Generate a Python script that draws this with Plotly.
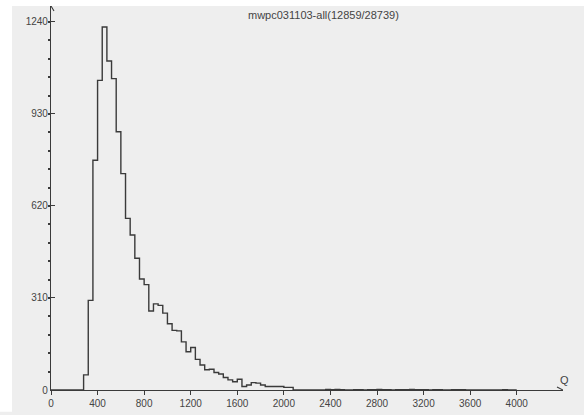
import plotly.graph_objects as go

# Histogram of Q, 40-wide bins starting at 0
bin_width = 40
counts = [
    0, 0, 0, 0, 0, 0, 0,                       # 0 - 280
    51, 302, 774, 1043, 1223, 1108, 1049, 870,  # 280 - 600
    729, 578, 522, 444, 374, 355, 266, 290,     # 600 - 920
    285, 259, 223, 201, 199, 162, 129, 143,     # 920 - 1240
    103, 84, 68, 70, 59, 54, 42, 34,            # 1240 - 1560
    28, 36, 12, 17, 25, 23, 17, 12,             # 1560 - 1880
    12, 12, 12, 9, 9, 0, 0, 0,                  # 1880 - 2200
    0, 0, 0, 0, 2, 1, 2, 1,                     # 2200 - 2520
    0, 0, 1, 1, 0, 1, 1, 2,                     # 2520 - 2840
    1, 1, 0, 1, 1, 1, 2, 1,                     # 2840 - 3160
    1, 1, 0, 1, 1, 0, 0, 1,                     # 3160 - 3480
    1, 1, 0, 0, 0, 0, 0, 0,                     # 3480 - 3800
    0, 0, 1, 0, 0,                              # 3800 - 4000
]
title_text = "mwpc031103-all(12859/28739)"
x_label = "Q"
y_ticks = [0, 310, 620, 930, 1240]
x_ticks = [0, 400, 800, 1200, 1600, 2000, 2400, 2800, 3200, 3600, 4000]

edges = [i * bin_width for i in range(len(counts) + 1)]
step_y = counts + [0]

ink = "#3a3a3a"
bg = "#eeeeee"

W, H = 584, 415
ml, mr, mt, mb = 51, 21, 6, 22
px_x = 0.11643   # pixels per Q unit
px_y = 0.29919   # pixels per count
x_max = (W - ml - mr) / px_x
y_max = (H - mt - mb) / px_y

fig = go.Figure(
    go.Scatter(
        x=edges,
        y=step_y,
        mode="lines",
        line=dict(shape="hv", color=ink, width=1.4),
        hoverinfo="skip",
    )
)

axis_font = dict(family="Liberation Sans, Arial, sans-serif", size=10, color="#444444")

fig.update_layout(
    xaxis=dict(
        range=[0, x_max],
        showgrid=False,
        zeroline=False,
        showline=True,
        linecolor=ink,
        linewidth=1.2,
        tickmode="array",
        tickvals=x_ticks,
        ticktext=[str(v) for v in x_ticks],
        ticks="outside",
        ticklen=4,
        tickwidth=1,
        tickcolor=ink,
        tickfont=axis_font,
    ),
    # companion axis carrying the bin-edge ticks between 0 and 4000
    xaxis2=dict(
        overlaying="x",
        anchor="y",
        side="bottom",
        range=[0, x_max],
        showgrid=False,
        zeroline=False,
        showline=False,
        tickmode="array",
        tickvals=edges,
        showticklabels=False,
        ticks="outside",
        ticklen=2,
        tickwidth=1.5,
        tickcolor=ink,
    ),
    yaxis=dict(
        range=[0, y_max],
        showgrid=False,
        zeroline=False,
        showline=True,
        linecolor=ink,
        linewidth=1.2,
        tickmode="array",
        tickvals=y_ticks,
        ticktext=[str(v) for v in y_ticks],
        ticks="inside",
        ticklen=4,
        tickwidth=1,
        tickcolor=ink,
        tickfont=axis_font,
        minor=dict(
            tick0=0,
            dtick=62,
            ticks="outside",
            ticklen=2,
            tickwidth=1.5,
            tickcolor=ink,
            showgrid=False,
        ),
    ),
)

plot_w = W - ml - mr
plot_h = H - mt - mb
shapes = [
    # white frame strips on the left and top edges of the canvas
    dict(type="rect", xref="paper", yref="paper",
         x0=-ml / plot_w, x1=(12 - ml) / plot_w, y0=-mb / plot_h, y1=1 + mt / plot_h,
         fillcolor="white", line_width=0, layer="below"),
    dict(type="rect", xref="paper", yref="paper",
         x0=-ml / plot_w, x1=1 + mr / plot_w, y0=1, y1=1 + mt / plot_h,
         fillcolor="white", line_width=0, layer="below"),
    # open arrowheads at the ends of both axes
    dict(type="path", xref="x", yref="y", xsizemode="pixel", ysizemode="pixel",
         xanchor=0, yanchor=y_max, path="M -3,-5 L 0,0 L 3,-5",
         line=dict(color=ink, width=1.1)),
    dict(type="path", xref="x", yref="y", xsizemode="pixel", ysizemode="pixel",
         xanchor=x_max, yanchor=0, path="M -6,3 L 0,0 L -6,-3",
         line=dict(color=ink, width=1.1)),
]

annotations = [
    dict(text=title_text, xref="paper", yref="paper",
         x=(323 - ml) / plot_w, y=(H - mb - 15) / plot_h,
         xanchor="center", yanchor="middle", showarrow=False,
         font=dict(family="Liberation Sans, Arial, sans-serif", size=11, color="#444444")),
    dict(text=x_label, xref="paper", yref="paper",
         x=(564 - ml) / plot_w, y=(H - mb - 383) / plot_h,
         xanchor="center", yanchor="middle", showarrow=False,
         font=dict(family="Liberation Sans, Arial, sans-serif", size=11, color="#444444")),
]

fig.update_layout(
    width=W,
    height=H,
    margin=dict(l=ml, r=mr, t=mt, b=mb, pad=0),
    paper_bgcolor=bg,
    plot_bgcolor=bg,
    showlegend=False,
    shapes=shapes,
    annotations=annotations,
)

fig.write_html("out.html")
